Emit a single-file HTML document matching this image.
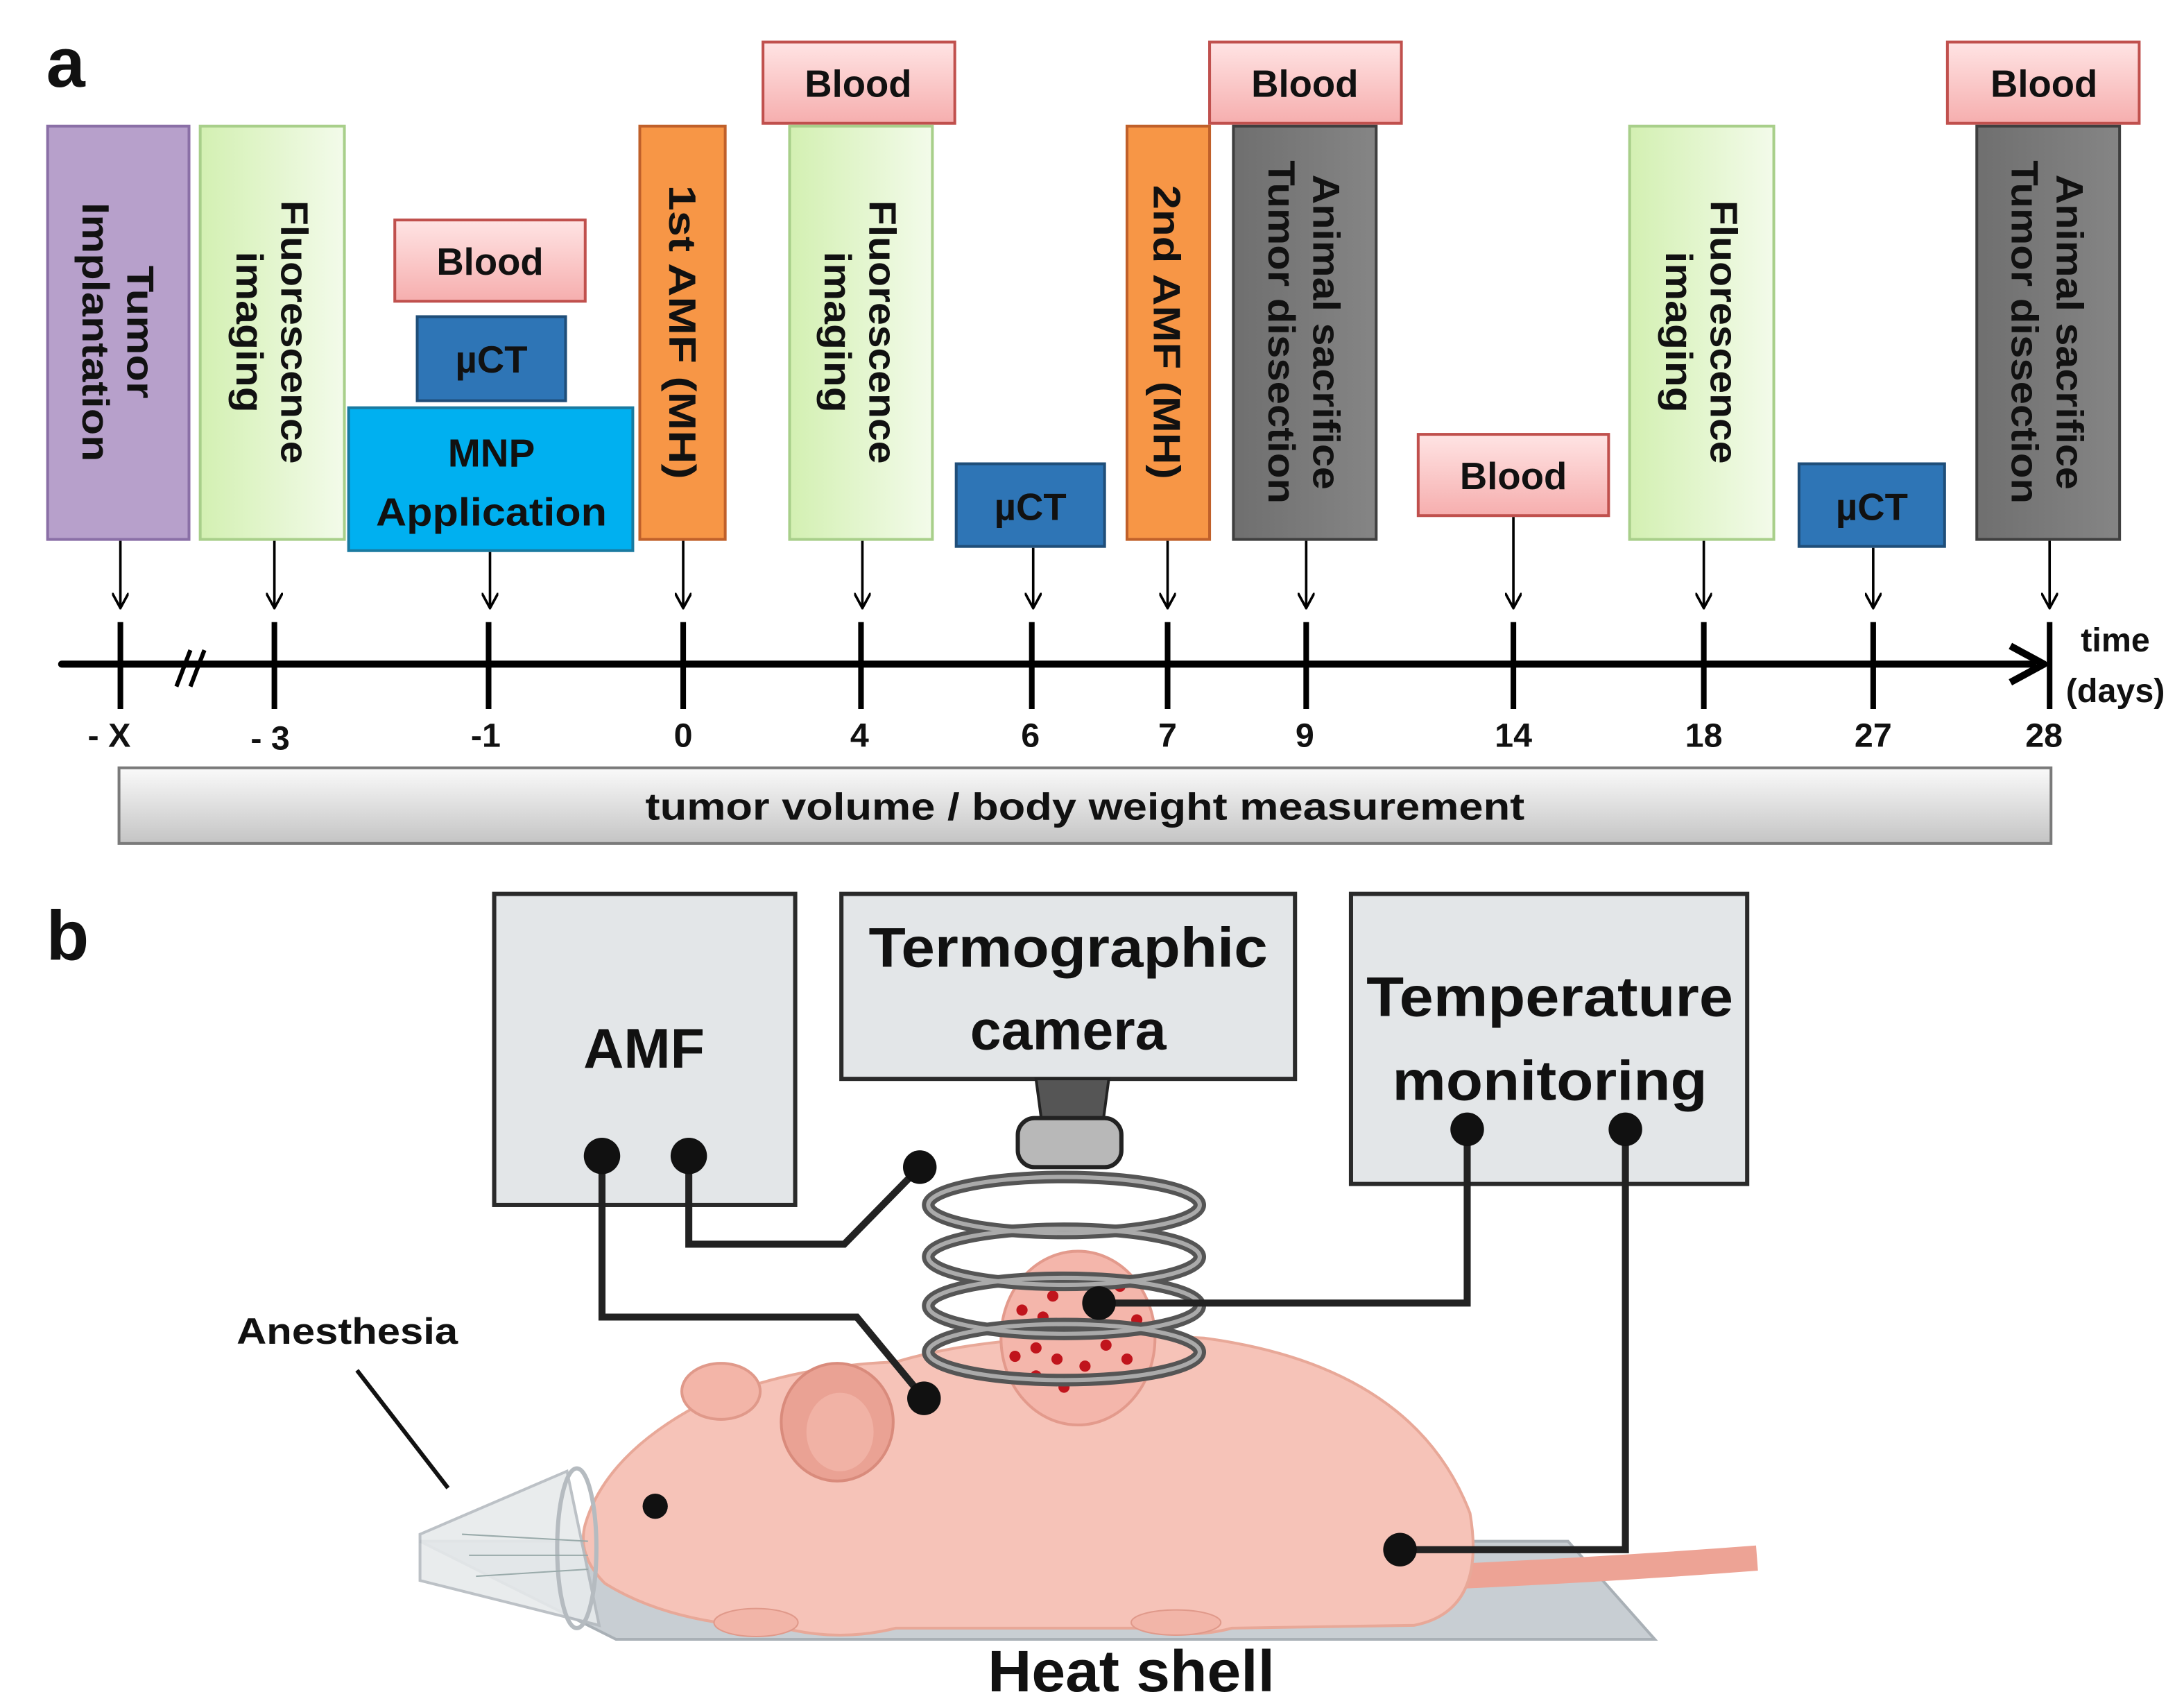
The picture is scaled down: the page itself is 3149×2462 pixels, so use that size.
<!DOCTYPE html>
<html><head><meta charset="utf-8">
<style>
html,body{margin:0;padding:0;background:#fff;}
svg{display:block;}
text{font-family:"Liberation Sans",sans-serif;font-weight:bold;fill:#111;}
</style></head>
<body>
<svg width="3149" height="2462" viewBox="0 0 1560 1219" preserveAspectRatio="none" xmlns="http://www.w3.org/2000/svg">
<defs>
<linearGradient id="gr" x1="0" y1="0" x2="1" y2="0"><stop offset="0" stop-color="#d3f0b2"/><stop offset="1" stop-color="#f3fbea"/></linearGradient>
<linearGradient id="pk" x1="0" y1="0" x2="0" y2="1"><stop offset="0" stop-color="#ffe4e4"/><stop offset="1" stop-color="#f6aeae"/></linearGradient>
<linearGradient id="gy" x1="0" y1="0" x2="0" y2="1"><stop offset="0" stop-color="#fafafa"/><stop offset="1" stop-color="#c4c4c4"/></linearGradient>
<linearGradient id="dg" x1="0" y1="0" x2="1" y2="0"><stop offset="0" stop-color="#6f6f6f"/><stop offset="1" stop-color="#858585"/></linearGradient>
<marker id="ah" viewBox="0 0 12 12" refX="11" refY="6" markerWidth="12" markerHeight="12" orient="auto" markerUnits="userSpaceOnUse"><path d="M0,0 L11,6 L0,12" fill="none" stroke="#000" stroke-width="1.8"/></marker>
</defs>

<text x="33" y="62" font-size="50">a</text>

<rect x="34" y="90" width="101" height="295" fill="#b7a0cb" stroke="#8a6fa6" stroke-width="2"/>
<g transform="translate(85,237) rotate(90)" font-size="27"><text x="0" y="-6" text-anchor="middle" textLength="95" lengthAdjust="spacingAndGlyphs">Tumor</text><text x="0" y="26" text-anchor="middle" textLength="185" lengthAdjust="spacingAndGlyphs">Implantation</text></g>

<rect x="143" y="90" width="103" height="295" fill="url(#gr)" stroke="#a8cf8a" stroke-width="2"/>
<g transform="translate(195,237) rotate(90)" font-size="27"><text x="0" y="-6" text-anchor="middle" textLength="188" lengthAdjust="spacingAndGlyphs">Fluorescence</text><text x="0" y="26" text-anchor="middle" textLength="115" lengthAdjust="spacingAndGlyphs">imaging</text></g>

<rect x="282" y="157" width="136" height="58" fill="url(#pk)" stroke="#c0504d" stroke-width="2"/>
<text x="350" y="196" font-size="27" text-anchor="middle">Blood</text>
<rect x="298" y="226" width="106" height="60" fill="#2e75b6" stroke="#1f4e79" stroke-width="2"/>
<text x="351" y="266" font-size="27" text-anchor="middle">µCT</text>
<rect x="249" y="291" width="203" height="102" fill="#00b0f0" stroke="#1a7aa0" stroke-width="2"/>
<text x="351" y="333" font-size="28" text-anchor="middle">MNP</text>
<text x="351" y="375" font-size="28" text-anchor="middle" textLength="165" lengthAdjust="spacingAndGlyphs">Application</text>

<rect x="457" y="90" width="61" height="295" fill="#f79646" stroke="#c0602a" stroke-width="2"/>
<g transform="translate(488,237) rotate(90)" font-size="27"><text x="0" y="10" text-anchor="middle" textLength="210" lengthAdjust="spacingAndGlyphs">1st  AMF (MH)</text></g>

<rect x="545" y="30" width="137" height="58" fill="url(#pk)" stroke="#c0504d" stroke-width="2"/>
<text x="613" y="69" font-size="27" text-anchor="middle">Blood</text>
<rect x="564" y="90" width="102" height="295" fill="url(#gr)" stroke="#a8cf8a" stroke-width="2"/>
<g transform="translate(615,237) rotate(90)" font-size="27"><text x="0" y="-6" text-anchor="middle" textLength="188" lengthAdjust="spacingAndGlyphs">Fluorescence</text><text x="0" y="26" text-anchor="middle" textLength="115" lengthAdjust="spacingAndGlyphs">imaging</text></g>

<rect x="683" y="331" width="106" height="59" fill="#2e75b6" stroke="#1f4e79" stroke-width="2"/>
<text x="736" y="371" font-size="27" text-anchor="middle">µCT</text>

<rect x="805" y="90" width="59" height="295" fill="#f79646" stroke="#c0602a" stroke-width="2"/>
<g transform="translate(834,237) rotate(90)" font-size="27"><text x="0" y="10" text-anchor="middle" textLength="210" lengthAdjust="spacingAndGlyphs">2nd AMF (MH)</text></g>

<rect x="864" y="30" width="137" height="58" fill="url(#pk)" stroke="#c0504d" stroke-width="2"/>
<text x="932" y="69" font-size="27" text-anchor="middle">Blood</text>
<rect x="881" y="90" width="102" height="295" fill="url(#dg)" stroke="#3f3f3f" stroke-width="2"/>
<g transform="translate(932,237) rotate(90)" font-size="27"><text x="0" y="-6" text-anchor="middle" textLength="225" lengthAdjust="spacingAndGlyphs">Animal sacrifice</text><text x="0" y="26" text-anchor="middle" textLength="245" lengthAdjust="spacingAndGlyphs">Tumor dissection</text></g>

<rect x="1013" y="310" width="136" height="58" fill="url(#pk)" stroke="#c0504d" stroke-width="2"/>
<text x="1081" y="349" font-size="27" text-anchor="middle">Blood</text>

<rect x="1164" y="90" width="103" height="295" fill="url(#gr)" stroke="#a8cf8a" stroke-width="2"/>
<g transform="translate(1216,237) rotate(90)" font-size="27"><text x="0" y="-6" text-anchor="middle" textLength="188" lengthAdjust="spacingAndGlyphs">Fluorescence</text><text x="0" y="26" text-anchor="middle" textLength="115" lengthAdjust="spacingAndGlyphs">imaging</text></g>

<rect x="1285" y="331" width="104" height="59" fill="#2e75b6" stroke="#1f4e79" stroke-width="2"/>
<text x="1337" y="371" font-size="27" text-anchor="middle">µCT</text>

<rect x="1391" y="30" width="137" height="58" fill="url(#pk)" stroke="#c0504d" stroke-width="2"/>
<text x="1460" y="69" font-size="27" text-anchor="middle">Blood</text>
<rect x="1412" y="90" width="102" height="295" fill="url(#dg)" stroke="#3f3f3f" stroke-width="2"/>
<g transform="translate(1463,237) rotate(90)" font-size="27"><text x="0" y="-6" text-anchor="middle" textLength="225" lengthAdjust="spacingAndGlyphs">Animal sacrifice</text><text x="0" y="26" text-anchor="middle" textLength="245" lengthAdjust="spacingAndGlyphs">Tumor dissection</text></g>

<g stroke="#000" stroke-width="1.8" marker-end="url(#ah)">
<line x1="86" y1="386" x2="86" y2="434"/>
<line x1="196" y1="386" x2="196" y2="434"/>
<line x1="350" y1="394" x2="350" y2="434"/>
<line x1="488" y1="386" x2="488" y2="434"/>
<line x1="616" y1="386" x2="616" y2="434"/>
<line x1="738" y1="391" x2="738" y2="434"/>
<line x1="834" y1="386" x2="834" y2="434"/>
<line x1="933" y1="386" x2="933" y2="434"/>
<line x1="1081" y1="369" x2="1081" y2="434"/>
<line x1="1217" y1="386" x2="1217" y2="434"/>
<line x1="1338" y1="391" x2="1338" y2="434"/>
<line x1="1464" y1="386" x2="1464" y2="434"/>
</g>

<line x1="44" y1="474" x2="1452" y2="474" stroke="#000" stroke-width="5" stroke-linecap="round"/>
<path d="M1436,461 L1460,474 L1436,487" fill="none" stroke="#000" stroke-width="5" stroke-linejoin="round"/>
<g stroke="#000" stroke-width="4">
<line x1="86" y1="444" x2="86" y2="506"/><line x1="196" y1="444" x2="196" y2="506"/>
<line x1="349" y1="444" x2="349" y2="506"/><line x1="488" y1="444" x2="488" y2="506"/>
<line x1="615" y1="444" x2="615" y2="506"/><line x1="737" y1="444" x2="737" y2="506"/>
<line x1="834" y1="444" x2="834" y2="506"/><line x1="933" y1="444" x2="933" y2="506"/>
<line x1="1081" y1="444" x2="1081" y2="506"/><line x1="1217" y1="444" x2="1217" y2="506"/>
<line x1="1338" y1="444" x2="1338" y2="506"/><line x1="1464" y1="444" x2="1464" y2="506"/>
<line x1="126" y1="490" x2="136" y2="464" stroke-width="3"/><line x1="136" y1="490" x2="146" y2="464" stroke-width="3"/>
</g>
<g font-size="24" text-anchor="middle">
<text x="78" y="533">- X</text><text x="193" y="535">- 3</text><text x="347" y="533">-1</text>
<text x="488" y="533">0</text><text x="614" y="533">4</text><text x="736" y="533">6</text>
<text x="834" y="533">7</text><text x="932" y="533">9</text><text x="1081" y="533">14</text>
<text x="1217" y="533">18</text><text x="1338" y="533">27</text><text x="1460" y="533">28</text>
<text x="1511" y="465">time</text><text x="1511" y="501">(days)</text>
</g>
<rect x="85" y="548" width="1380" height="54" fill="url(#gy)" stroke="#7a7a7a" stroke-width="2"/>
<text x="775" y="585" font-size="27" text-anchor="middle" textLength="628" lengthAdjust="spacingAndGlyphs">tumor volume / body weight measurement</text>

<text x="33" y="685" font-size="50">b</text>

<polygon points="300,1100 1120,1100 1182,1170 440,1170" fill="#c8ced3" stroke="#a9b0b6" stroke-width="2"/>
<path d="M1040,1125 Q1150,1120 1255,1112" fill="none" stroke="#eda395" stroke-width="18"/>
<path d="M418,1088 Q432,1040 495,1005 Q560,975 640,972 Q720,948 860,955 Q1010,975 1050,1080 Q1062,1150 1010,1160 L880,1162 Q850,1170 820,1162 L640,1162 Q600,1172 560,1162 Q480,1160 432,1130 Q412,1110 418,1088 Z" fill="#f6c3b8" stroke="#e8a898" stroke-width="2"/>
<ellipse cx="515" cy="993" rx="28" ry="20" fill="#f3b5a8" stroke="#e0998a" stroke-width="2"/>
<ellipse cx="598" cy="1015" rx="40" ry="42" fill="#eaa294" stroke="#d98b7c" stroke-width="2"/>
<ellipse cx="600" cy="1022" rx="24" ry="28" fill="#f1b2a5"/>
<ellipse cx="540" cy="1158" rx="30" ry="10" fill="#f2b5a8" stroke="#e0998a"/>
<ellipse cx="840" cy="1158" rx="32" ry="9" fill="#f2b5a8" stroke="#e0998a"/>
<circle cx="468" cy="1075" r="9" fill="#111"/>
<polygon points="300,1095 405,1050 428,1160 300,1128" fill="#e7eaec" stroke="#b5bbc0" stroke-width="2" opacity="0.9"/>
<ellipse cx="412" cy="1105" rx="14" ry="57" fill="none" stroke="#b5bbc0" stroke-width="3"/>
<g stroke="#9aa" stroke-width="1"><line x1="330" y1="1095" x2="420" y2="1100"/><line x1="335" y1="1110" x2="420" y2="1110"/><line x1="340" y1="1125" x2="420" y2="1120"/></g>

<ellipse cx="770" cy="955" rx="55" ry="62" fill="#f4b6ab" stroke="#e39a8c" stroke-width="2"/>
<g fill="#c0141c">
<circle cx="738" cy="915" r="4"/><circle cx="752" cy="925" r="4"/><circle cx="745" cy="940" r="4"/><circle cx="762" cy="912" r="4"/>
<circle cx="730" cy="935" r="4"/><circle cx="770" cy="945" r="4"/><circle cx="800" cy="918" r="4"/><circle cx="812" cy="942" r="4"/>
<circle cx="740" cy="962" r="4"/><circle cx="755" cy="970" r="4"/><circle cx="725" cy="968" r="4"/><circle cx="790" cy="960" r="4"/>
<circle cx="775" cy="975" r="4"/><circle cx="740" cy="982" r="4"/><circle cx="760" cy="990" r="4"/><circle cx="805" cy="970" r="4"/>
</g>

<g fill="none" stroke="#555" stroke-width="9">
<ellipse cx="760" cy="860" rx="97" ry="20"/>
<ellipse cx="760" cy="897" rx="97" ry="20"/>
<ellipse cx="760" cy="932" rx="97" ry="20"/>
<ellipse cx="760" cy="965" rx="97" ry="20"/>
</g>
<g fill="none" stroke="#aaa" stroke-width="3">
<ellipse cx="760" cy="860" rx="97" ry="20"/>
<ellipse cx="760" cy="897" rx="97" ry="20"/>
<ellipse cx="760" cy="932" rx="97" ry="20"/>
<ellipse cx="760" cy="965" rx="97" ry="20"/>
</g>

<rect x="353" y="638" width="215" height="222" fill="#e3e6e8" stroke="#2a2a2a" stroke-width="3"/>
<text x="460" y="762" font-size="40" text-anchor="middle">AMF</text>
<rect x="601" y="638" width="324" height="132" fill="#e3e6e8" stroke="#2a2a2a" stroke-width="3"/>
<text x="763" y="690" font-size="40" text-anchor="middle" textLength="285" lengthAdjust="spacingAndGlyphs">Termographic</text>
<text x="763" y="749" font-size="40" text-anchor="middle">camera</text>
<polygon points="740,770 792,770 788,800 744,800" fill="#555" stroke="#222" stroke-width="2"/>
<rect x="727" y="798" width="74" height="35" rx="12" fill="#b8b8b8" stroke="#222" stroke-width="3"/>
<rect x="965" y="638" width="283" height="207" fill="#e3e6e8" stroke="#2a2a2a" stroke-width="3"/>
<text x="1107" y="725" font-size="40" text-anchor="middle" textLength="262" lengthAdjust="spacingAndGlyphs">Temperature</text>
<text x="1107" y="785" font-size="40" text-anchor="middle" textLength="225" lengthAdjust="spacingAndGlyphs">monitoring</text>

<g fill="none" stroke="#222" stroke-width="5">
<path d="M430,825 L430,940 L612,940 L660,998"/>
<path d="M492,825 L492,888 L603,888 L657,833"/>
<path d="M1048,806 L1048,930 L785,930"/>
<path d="M1161,806 L1161,1106 L1000,1106"/>
</g>
<g fill="#111">
<circle cx="430" cy="825" r="13"/><circle cx="492" cy="825" r="13"/>
<circle cx="657" cy="833" r="12"/><circle cx="660" cy="998" r="12"/>
<circle cx="1048" cy="806" r="12"/><circle cx="1161" cy="806" r="12"/>
<circle cx="785" cy="930" r="12"/><circle cx="1000" cy="1106" r="12"/>
</g>

<text x="248" y="959" font-size="26" text-anchor="middle" textLength="158" lengthAdjust="spacingAndGlyphs">Anesthesia</text>
<line x1="255" y1="978" x2="320" y2="1062" stroke="#111" stroke-width="3"/>
<text x="808" y="1207" font-size="42" text-anchor="middle" textLength="205" lengthAdjust="spacingAndGlyphs">Heat shell</text>
</svg>
</body></html>
